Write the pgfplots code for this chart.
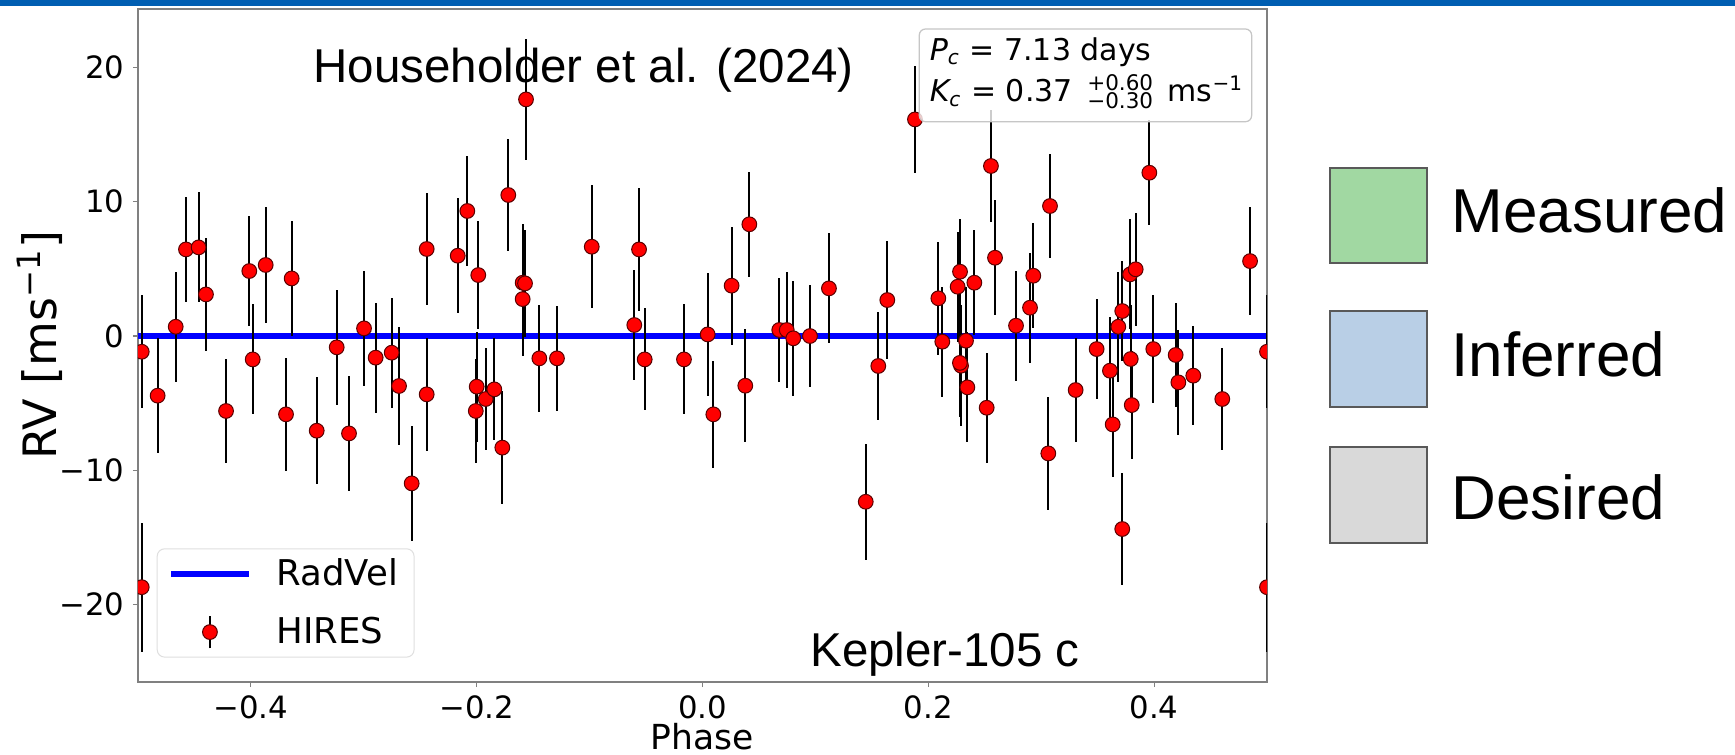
\documentclass[border=0pt]{standalone}
\usepackage{fontspec}
\setmainfont{DejaVu Sans}
\newfontfamily\lib{Liberation Sans}
\usepackage{pgfplots}
\pgfplotsset{compat=1.18}
\usepackage{pgfplotstable}

\definecolor{hdr}{RGB}{0,94,178}
\definecolor{meas}{RGB}{161,216,162}
\definecolor{infe}{RGB}{185,207,230}
\definecolor{desi}{RGB}{217,217,217}
\definecolor{spine}{RGB}{128,128,128}
\definecolor{mkedge}{RGB}{90,0,0}

\pgfplotstableread{
ph rv err
-0.4967 -1.17 4.2
-0.4967 -18.70 4.8
-0.4826 -4.44 4.3
-0.4666 0.69 4.1
-0.4575 6.45 3.9
-0.4463 6.60 4.1
-0.4398 3.10 4.2
-0.4220 -5.58 3.9
-0.4014 4.84 4.1
-0.3984 -1.74 4.1
-0.3869 5.29 4.3
-0.3689 -5.83 4.2
-0.3639 4.29 4.3
-0.3417 -7.05 4.0
-0.3240 -0.84 4.3
-0.3131 -7.25 4.3
-0.2998 0.57 4.3
-0.2895 -1.61 4.1
-0.2753 -1.24 4.1
-0.2688 -3.72 4.4
-0.2576 -10.97 4.3
-0.2443 6.48 4.2
-0.2443 -4.34 4.2
-0.2168 5.98 4.3
-0.2083 9.31 4.1
-0.2008 -5.58 3.9
-0.2000 -3.77 4.1
-0.1986 4.54 4.0
-0.1920 -4.69 3.8
-0.1844 -3.97 3.8
-0.1773 -8.31 4.2
-0.1720 10.50 4.2
-0.1593 3.97 4.4
-0.1593 2.75 4.2
-0.1572 3.92 4.0
-0.1563 17.62 4.5
-0.1445 -1.66 4.0
-0.1289 -1.66 3.9
-0.0981 6.65 4.6
-0.0604 0.82 4.1
-0.0562 6.45 4.6
-0.0512 -1.74 3.8
-0.0164 -1.74 4.1
0.0046 0.12 4.6
0.0096 -5.83 4.0
0.0258 3.75 4.4
0.0379 -3.70 4.2
0.0415 8.32 3.9
0.0680 0.45 3.9
0.0746 0.45 4.3
0.0804 -0.17 4.3
0.0952 0.00 3.8
0.1120 3.55 4.1
0.1446 -12.34 4.3
0.1557 -2.23 4.0
0.1637 2.68 4.4
0.1882 16.13 4.0
0.2089 2.81 4.2
0.2124 -0.42 4.1
0.2260 3.67 4.1
0.2281 4.79 3.9
0.2290 -2.21 4.5
0.2280 -2.00 4.0
0.2334 -0.35 4.0
0.2346 -3.82 4.1
0.2408 3.97 3.9
0.2517 -5.34 4.1
0.2555 12.66 4.2
0.2591 5.83 4.3
0.2777 0.77 4.1
0.2901 2.11 4.1
0.2930 4.49 3.9
0.3063 -8.74 4.2
0.3078 9.68 3.9
0.3305 -4.02 3.9
0.3491 -0.97 3.7
0.3609 -2.58 4.0
0.3633 -6.58 3.9
0.3683 0.69 4.1
0.3718 1.86 3.7
0.3718 -14.37 4.2
0.3787 4.59 4.1
0.3793 -1.71 4.0
0.3802 -5.14 4.0
0.3837 4.97 4.2
0.3958 12.16 3.9
0.3993 -0.97 4.0
0.4191 -1.41 3.9
0.4215 -3.45 3.9
0.4347 -2.95 3.7
0.4604 -4.69 3.8
0.4850 5.58 4.0
0.5000 -1.17 4.2
0.5000 -18.70 4.8
}\hires

\begin{document}
\begin{tikzpicture}
\path[use as bounding box] (0,0) rectangle (694pt,-302pt);
\fill[white] (0,0) rectangle (694pt,-302pt);
\fill[hdr] (0,0) rectangle (694pt,-2.4pt);
\begin{axis}[
  at={(55.2pt,-272.8pt)}, anchor=south west,
  scale only axis, width=451.6pt, height=269.2pt,
  xmin=-0.5, xmax=0.5, ymin=-25.76, ymax=24.35,
  axis line style={spine, line width=0.45pt},
  tick align=outside, major tick length=2pt,
  tick style={spine, line width=0.45pt},
  xtick={-0.4,-0.2,0,0.2,0.4}, xticklabels={−0.4,−0.2,0.0,0.2,0.4},
  ytick={-20,-10,0,10,20}, yticklabels={−20,−10,0,10,20},
  xtick pos=bottom, ytick pos=left,
  ticklabel style={font=\fontsize{12.3}{14}\selectfont, text=black},
  xlabel={Phase}, ylabel={RV [ms\textsuperscript{−1}]},
  every axis x label/.style={at={(rel axis cs:0.5,-0.101)}, anchor=base, font=\fontsize{13.8}{16}\selectfont},
  every axis y label/.style={at={(rel axis cs:-0.0726,0.5)}, rotate=90, anchor=base, font=\fontsize{18.4}{21}\selectfont},
  clip marker paths=true,
  legend cell align=left,
  legend style={at={(rel axis cs:0.01656,0.19866)}, anchor=north west,
    draw=gray!25, rounded corners=3pt, fill=white,
    inner xsep=4.4pt, inner ysep=2pt,
    font=\fontsize{14.2}{16}\selectfont, row sep=7pt,
    /tikz/every odd column/.append style={column sep=8pt}},
]
\addplot[blue, line width=2.4pt, legend image code/.code={\draw[blue, line width=2.4pt] (0pt,0pt)--(31pt,0pt);}] coordinates {(-0.5,0) (0.5,0)};
\addlegendentry{RadVel}
\addplot[only marks, mark=*, mark size=2.95pt,
  mark options={fill=red, draw=mkedge, line width=0.4pt},
  legend image code/.code={\draw[black, line width=0.75pt] (15.5pt,-6.5pt)--(15.5pt,6.5pt);
     \draw[fill=red, draw=mkedge, line width=0.4pt] (15.5pt,0pt) circle (2.95pt);},
  error bars/.cd, y dir=both, y explicit, error mark=none,
  error bar style={black, line width=0.75pt}]
  table[x=ph, y=rv, y error=err] {\hires};
\addlegendentry{HIRES}
\draw[gray!45, fill=white, fill opacity=0.8, rounded corners=2.5pt, line width=0.5pt]
  (rel axis cs:0.692,0.9703) rectangle (rel axis cs:0.9864,0.8325);
\node[anchor=base west, inner sep=0pt, font=\fontsize{12}{14}\selectfont] at (rel axis cs:0.7009,0.9242)
  {{\itshape P}\textsubscript{\itshape c} = 7.13 days};
\node[anchor=base west, inner sep=0pt, font=\fontsize{12}{14}\selectfont] at (rel axis cs:0.7009,0.8623)
  {{\itshape K}\textsubscript{\itshape c} = 0.37 \,{\fontsize{8.6}{9}\selectfont\rlap{\raisebox{4.6pt}{+0.60}}\raisebox{-2.6pt}{−0.30}}\, ms\textsuperscript{−1}};
\end{axis}
\begin{scope}[x=0.4pt,y=-0.4pt]
\node[anchor=base west, inner sep=0pt, font=\lib\fontsize{19}{22}\selectfont] at (313,82.3) {Householder et al. (2024)};
\node[anchor=base west, inner sep=0pt, font=\lib\fontsize{19}{22}\selectfont] at (810,666.7) {Kepler-105 c};
\draw[black!65, line width=0.6pt, fill=meas] (1330,168) rectangle (1427,263);
\draw[black!65, line width=0.6pt, fill=infe] (1330,311) rectangle (1427,407);
\draw[black!65, line width=0.6pt, fill=desi] (1330,447) rectangle (1427,543);
\node[anchor=base west, inner sep=0pt, font=\lib\fontsize{24.8}{28}\selectfont] at (1451,233) {Measured};
\node[anchor=base west, inner sep=0pt, font=\lib\fontsize{24.8}{28}\selectfont] at (1451,376.7) {Inferred};
\node[anchor=base west, inner sep=0pt, font=\lib\fontsize{24.8}{28}\selectfont] at (1451,519.3) {Desired};
\end{scope}
\end{tikzpicture}
\end{document}
